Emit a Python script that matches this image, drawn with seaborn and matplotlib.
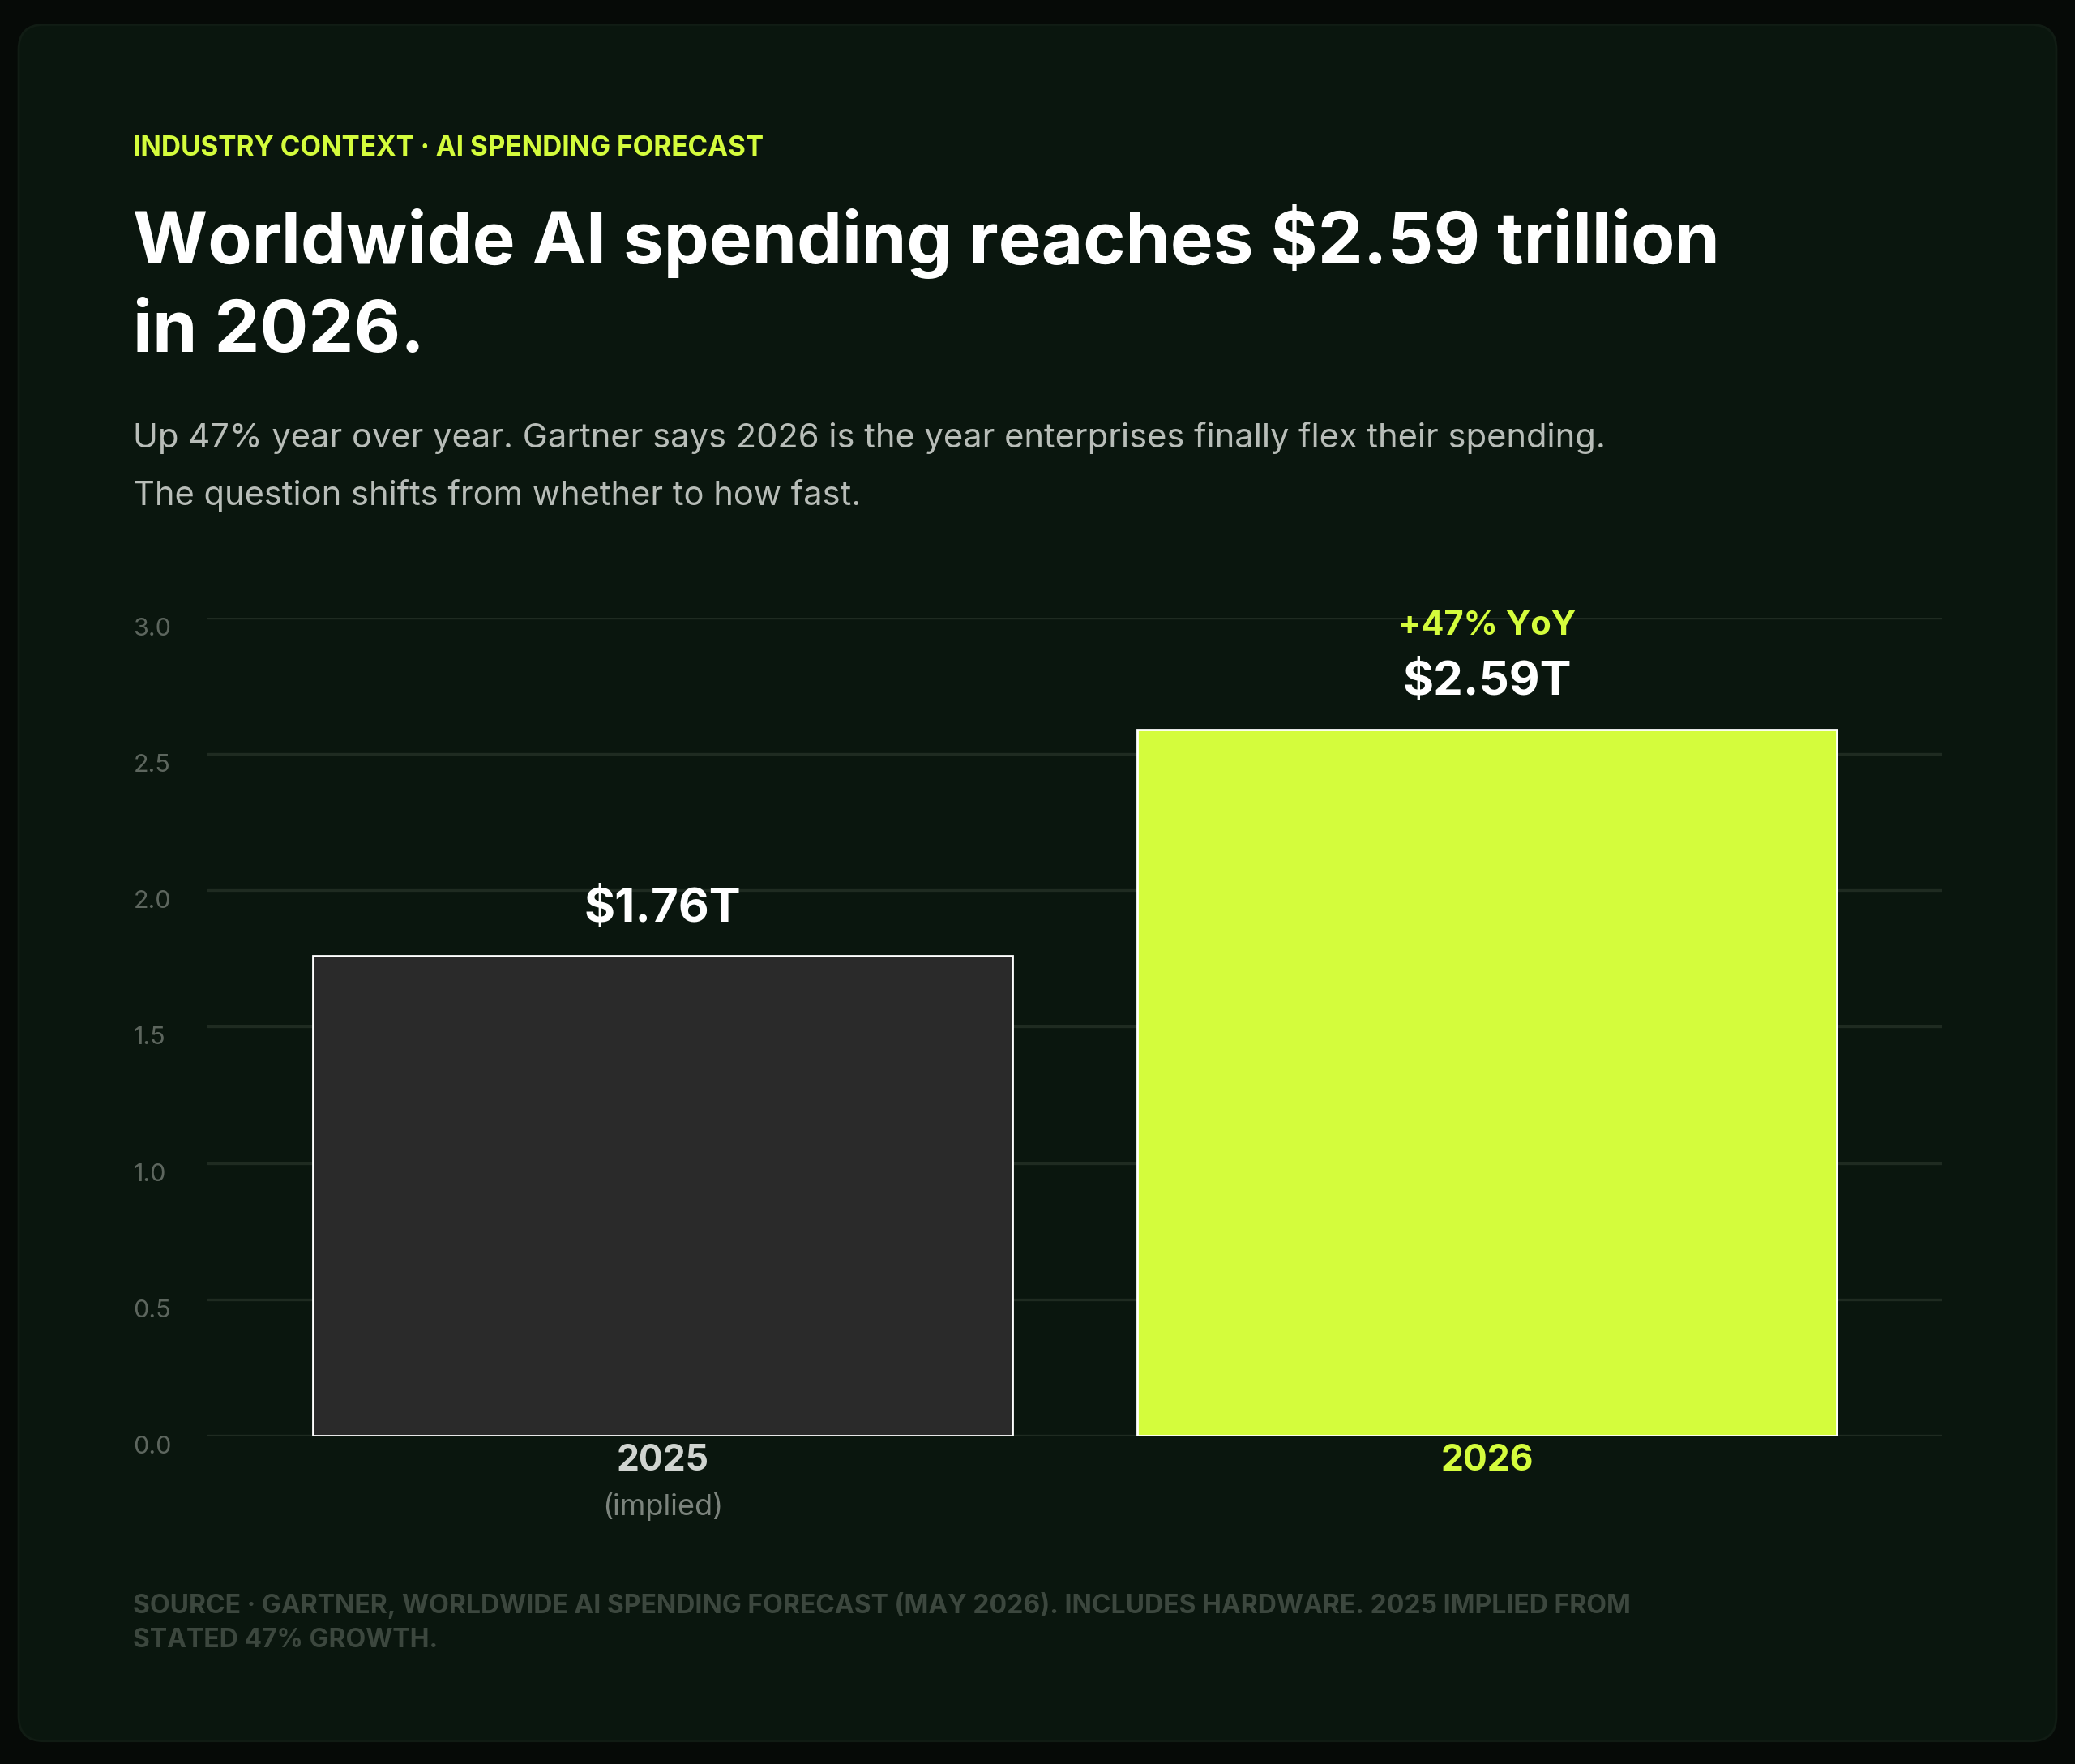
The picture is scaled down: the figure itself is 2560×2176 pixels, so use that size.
import matplotlib
matplotlib.use("Agg")
import matplotlib.pyplot as plt
import seaborn as sns
import pandas as pd
from matplotlib.patches import FancyBboxPatch
from matplotlib.transforms import blended_transform_factory

# spending in trillions USD
data = pd.DataFrame({
    "year": ["2025", "2026"],
    "spend": [1.76, 2.59],
})
bar_colors = ["#2a2a2a", "#d4fc3c"]
lime = "#d4fc3c"

sns.set_style("dark")
plt.rcParams["font.family"] = ["Inter", "DejaVu Sans"]

fig = plt.figure(figsize=(12.8, 10.88), dpi=200)
fig.patch.set_facecolor("#060a07")
card = FancyBboxPatch((0.009, 0.013), 0.982, 0.973,
                      boxstyle="round,pad=0,rounding_size=0.012",
                      transform=fig.transFigure, facecolor="#0a160e",
                      edgecolor="#111c14", linewidth=1, mutation_aspect=2560 / 2176,
                      zorder=-10)
fig.patches.append(card)

ax = fig.add_axes([0.100, 0.186, 0.836, 0.464])
ax.set_zorder(5)
ax.set_facecolor("none")
sns.barplot(data=data, x="year", y="spend", hue="year", palette=bar_colors,
            legend=False, width=0.848, ax=ax, saturation=1)
ax.set_xlim(-0.552, 1.552)
ax.set_ylim(0, 3.0)
ax.set_yticks([0, 0.5, 1.0, 1.5, 2.0, 2.5, 3.0])
ax.set_yticklabels([f"{v:.1f}" for v in ax.get_yticks()])
ax.grid(axis="y", color="#1f2b21", linewidth=1.2)
ax.grid(axis="x", visible=False)
ax.set_axisbelow(True)
for s in ax.spines.values():
    s.set_visible(False)
ax.tick_params(axis="y", length=0, pad=33, labelsize=11, labelcolor="#5d665e")
for lbl in ax.get_yticklabels():
    lbl.set_ha("left")
    lbl.set_va("top")
ax.set_xticks([])
ax.set_xlabel("")
ax.set_ylabel("")

# value labels above bars
for i, v in enumerate(data["spend"]):
    ax.text(i, v + 0.17, f"${v:.2f}T", ha="center", va="center",
            color="white", fontsize=21, fontweight="bold")
ax.text(1, 2.59 + 0.38, "+47% YoY", ha="center", va="center",
        color=lime, fontsize=15, fontweight="bold")

tr = blended_transform_factory(ax.transData, fig.transFigure)
ax.text(0, 0.172, "2025", transform=tr, ha="center", va="center",
        color="#d0d4d0", fontsize=16, fontweight="bold")
ax.text(0, 0.146, "(implied)", transform=tr, ha="center", va="center",
        color="#7c847d", fontsize=13)
ax.text(1, 0.172, "2026", transform=tr, ha="center", va="center",
        color=lime, fontsize=16, fontweight="bold")

# header text
fig.text(0.064, 0.916, "INDUSTRY CONTEXT · AI SPENDING FORECAST", color=lime,
         fontsize=12, fontweight="bold", va="center")
fig.text(0.064, 0.863, "Worldwide AI spending reaches $2.59 trillion", color="white",
         fontsize=32, fontweight="bold", va="center")
fig.text(0.064, 0.811, "in 2026.", color="white",
         fontsize=32, fontweight="bold", va="center")
fig.text(0.064, 0.752,
         "Up 47% year over year. Gartner says 2026 is the year enterprises finally flex their spending.",
         color="#b8bdb8", fontsize=15, va="center")
fig.text(0.064, 0.719, "The question shifts from whether to how fast.",
         color="#b8bdb8", fontsize=15, va="center")

fig.text(0.064, 0.090,
         "SOURCE · GARTNER, WORLDWIDE AI SPENDING FORECAST (MAY 2026). INCLUDES HARDWARE. 2025 IMPLIED FROM",
         color="#3c473e", fontsize=11.5, fontweight="bold", va="center")
fig.text(0.064, 0.070, "STATED 47% GROWTH.",
         color="#3c473e", fontsize=11.5, fontweight="bold", va="center")

fig.savefig("out.png", dpi=200, facecolor=fig.get_facecolor())
